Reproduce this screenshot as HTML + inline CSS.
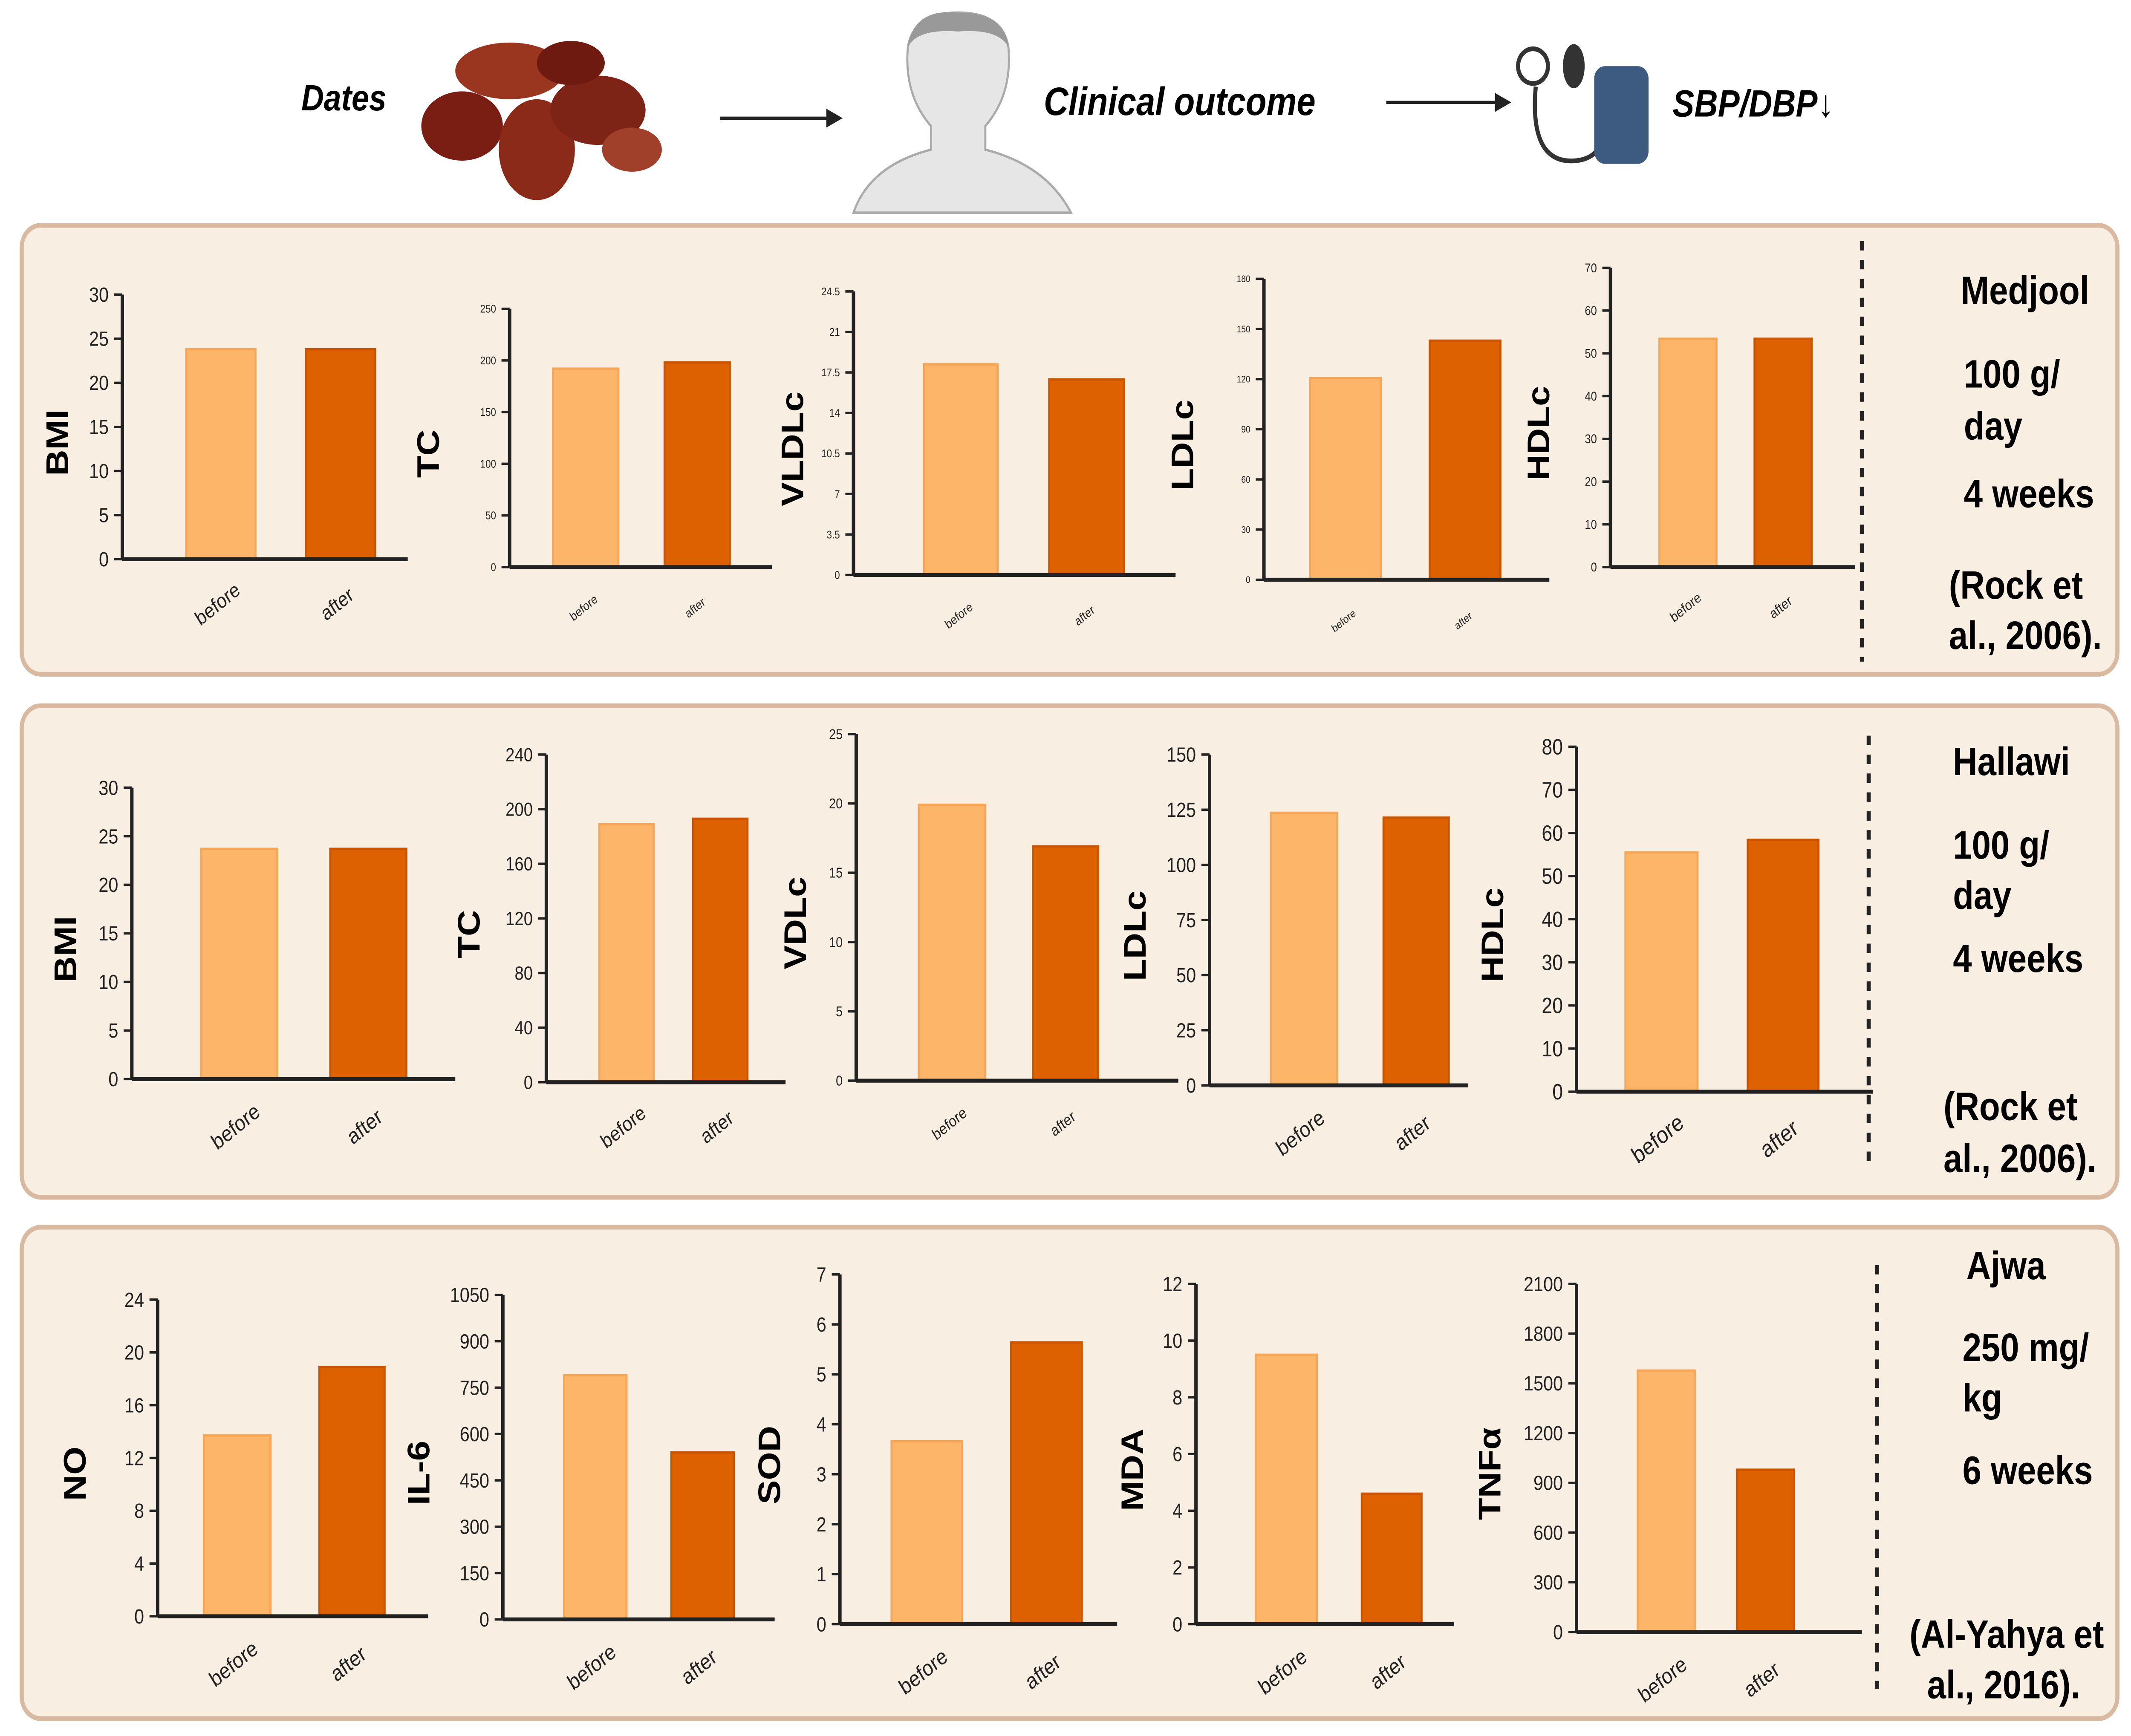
<!DOCTYPE html>
<html><head><meta charset="utf-8"><style>
html,body{margin:0;padding:0;background:#fff;width:100%;height:100%;overflow:hidden}
svg{display:block;position:absolute;left:0;top:0;width:100vw;height:100vh}
text{font-family:"Liberation Sans",sans-serif}
</style></head><body>
<svg id="root" viewBox="0 0 1568 1102" preserveAspectRatio="none" xmlns="http://www.w3.org/2000/svg">
<rect width="1568" height="1102" fill="#fff"/>
<g>
<text x="253" y="70" font-size="23" font-weight="bold" font-style="italic" text-anchor="middle">Dates</text>
<g>
<ellipse cx="340" cy="80" rx="30" ry="22" fill="#7a1e14"/>
<ellipse cx="395" cy="95" rx="28" ry="32" fill="#8b2a18"/>
<ellipse cx="375" cy="45" rx="40" ry="18" fill="#9a3520"/>
<ellipse cx="440" cy="70" rx="35" ry="22" fill="#7e2416"/>
<ellipse cx="465" cy="95" rx="22" ry="14" fill="#a1402a"/>
<ellipse cx="420" cy="40" rx="25" ry="14" fill="#6e1a10"/>
</g>
<line x1="530" y1="75" x2="610" y2="75" stroke="#222" stroke-width="2"/>
<polygon points="620,75 608,69 608,81" fill="#222"/>
<g>
<path d="M628,135 Q640,105 685,95 L685,80 Q665,60 668,30 Q672,8 705,8 Q738,8 742,30 Q745,60 725,80 L725,95 Q770,105 788,135 Z" fill="#e6e6e6" stroke="#aaa" stroke-width="1.5"/>
<path d="M668,30 Q672,5 705,8 Q740,8 742,30 Q735,18 705,20 Q675,18 668,30Z" fill="#999"/>
</g>
<text x="868" y="73" font-size="25" font-weight="bold" font-style="italic" text-anchor="middle">Clinical outcome</text>
<line x1="1020" y1="65" x2="1100" y2="65" stroke="#222" stroke-width="2"/>
<polygon points="1112,65 1100,59 1100,71" fill="#222"/>
<g>
<circle cx="1128" cy="42" r="11" fill="#fff" stroke="#333" stroke-width="3"/>
<ellipse cx="1158" cy="42" rx="8" ry="14" fill="#333"/>
<path d="M1130,55 Q1125,105 1160,102 Q1180,100 1180,80" fill="none" stroke="#333" stroke-width="3"/>
<rect x="1173" y="42" width="40" height="62" rx="8" fill="#3d5a80"/>
</g>
<text x="1290" y="74" font-size="24" font-weight="bold" font-style="italic" text-anchor="middle">SBP/DBP↓</text>
</g>
<rect x="16" y="143" width="1542" height="285" rx="14" fill="#f9eee2" stroke="#d9b9a0" stroke-width="3"/>
<rect x="16" y="448" width="1542" height="312" rx="14" fill="#f9eee2" stroke="#d9b9a0" stroke-width="3"/>
<rect x="16" y="779" width="1542" height="312" rx="14" fill="#f9eee2" stroke="#d9b9a0" stroke-width="3"/>
<g id="charts"></g>
<g font-weight="bold" font-size="25">
<line x1="1370" y1="153" x2="1370" y2="420" stroke="#222" stroke-width="3" stroke-dasharray="6,6"/>
<text x="1490" y="193" text-anchor="middle">Medjool</text>
<text x="1445" y="246">100 g/</text><text x="1445" y="279">day</text>
<text x="1445" y="322">4 weeks</text>
<text x="1434" y="380">(Rock et</text><text x="1434" y="412">al., 2006).</text>
<line x1="1375" y1="467" x2="1375" y2="738" stroke="#222" stroke-width="3" stroke-dasharray="6,6"/>
<text x="1480" y="492" text-anchor="middle">Hallawi</text>
<text x="1437" y="545">100 g/</text><text x="1437" y="577">day</text>
<text x="1437" y="617">4 weeks</text>
<text x="1430" y="711">(Rock et</text><text x="1430" y="744">al., 2006).</text>
<line x1="1381" y1="803" x2="1381" y2="1072" stroke="#222" stroke-width="3" stroke-dasharray="6,6"/>
<text x="1476" y="812" text-anchor="middle">Ajwa</text>
<text x="1444" y="864">250 mg/</text><text x="1444" y="896">kg</text>
<text x="1444" y="942">6 weeks</text>
<text x="1405" y="1046">(Al-Yahya et</text><text x="1418" y="1078">al., 2016).</text>
</g>
</svg>
<script>
const categories = ["before", "after"];
// Row 1 (Medjool)
const bmi1 = [23.8, 23.8];   const bmi1Ticks = [0,5,10,15,20,25,30];
const tc1 = [192, 198];      const tc1Ticks = [0,50,100,150,200,250];
const vldl1 = [18.2, 16.9];  const vldl1Ticks = [0,3.5,7,10.5,14,17.5,21,24.5];
const ldl1 = [120.6, 143];   const ldl1Ticks = [0,30,60,90,120,150,180];
const hdl1 = [53.4, 53.4];   const hdl1Ticks = [0,10,20,30,40,50,60,70];
// Row 2 (Hallawi)
const bmi2 = [23.7, 23.7];   const bmi2Ticks = [0,5,10,15,20,25,30];
const tc2 = [189, 193];      const tc2Ticks = [0,40,80,120,160,200,240];
const vdl2 = [19.9, 16.9];   const vdl2Ticks = [0,5,10,15,20,25];
const ldl2 = [123.6, 121.4]; const ldl2Ticks = [0,25,50,75,100,125,150];
const hdl2 = [55.5, 58.4];   const hdl2Ticks = [0,10,20,30,40,50,60,70,80];
// Row 3 (Ajwa)
const no3 = [13.7, 18.9];    const no3Ticks = [0,4,8,12,16,20,24];
const il63 = [790, 540];     const il63Ticks = [0,150,300,450,600,750,900,1050];
const sod3 = [3.66, 5.64];   const sod3Ticks = [0,1,2,3,4,5,6,7];
const mda3 = [9.5, 4.6];     const mda3Ticks = [0,2,4,6,8,10,12];
const tnf3 = [1577, 979];    const tnf3Ticks = [0,300,600,900,1200,1500,1800,2100];

const NS = "http://www.w3.org/2000/svg";
const root = document.getElementById("charts");
function mk(tag, attrs, parent) {
  const e = document.createElementNS(NS, tag);
  for (const k in attrs) e.setAttribute(k, attrs[k]);
  parent.appendChild(e);
  return e;
}
function chart(name, label, values, ticks, L) {
  const g = mk("g", {}, root);
  
  
  const max = ticks[ticks.length - 1];
  const y = v => L.yb - (v / max) * (L.yb - L.yt);
  ticks.forEach(t => {
    const yy = y(t);
    mk("line", {x1: L.x0 - 6, x2: L.x0, y1: yy, y2: yy, stroke: "#222", "stroke-width": 1.5}, g);
    const tx = mk("text", {x: L.x0 - 10, y: yy + L.fs * 0.35, "font-size": L.fs, "text-anchor": "end", fill: "#222"}, g);
    tx.textContent = t;
    
    
  });
  const colors = ["#fdb56a", "#de6100"], strokes = ["#f5a657", "#c95500"];
  values.forEach((v, i) => {
    const [l, r] = L.bars[i];
    const b = mk("rect", {x: l, y: y(v), width: r - l, height: L.yb - y(v), fill: colors[i], stroke: strokes[i], "stroke-width": 1.5}, g);
    
    
    const cx = (l + r) / 2;
    const t = mk("text", {x: cx, y: L.yb + L.xo, "font-size": L.xfs, "text-anchor": "middle", transform: `rotate(-35 ${cx} ${L.yb + L.xo})`, fill: "#222"}, g);
    t.textContent = categories[i];
    
    
  });
  mk("line", {x1: L.x0, x2: L.x0, y1: L.yt, y2: L.yb, stroke: "#222", "stroke-width": 2.5}, g);
  mk("line", {x1: L.x0, x2: L.x1, y1: L.yb, y2: L.yb, stroke: "#222", "stroke-width": 2.5}, g);
  const ly = (L.yt + L.yb) / 2 + 10;
  const yl = mk("text", {x: L.lx, y: ly, "font-size": 23, "font-weight": "bold", "text-anchor": "middle", transform: `rotate(-90 ${L.lx} ${ly})`}, g);
  yl.textContent = label;
  
  
}
chart("bmi-medjool", "BMI", bmi1, bmi1Ticks, {x0:90,x1:300,yb:355,yt:187,fs:13,lx:50,bars:[[137,188],[225,276]],xo:32,xfs:13});
chart("tc-medjool", "TC", tc1, tc1Ticks, {x0:375,x1:568,yb:360,yt:196,fs:7,lx:323,bars:[[407,455],[489,537]],xo:28,xfs:8});
chart("vldlc-medjool", "VLDLc", vldl1, vldl1Ticks, {x0:628,x1:865,yb:365,yt:185,fs:7,lx:591,bars:[[680,734],[772,827]],xo:28,xfs:8});
chart("ldlc-medjool", "LDLc", ldl1, ldl1Ticks, {x0:930,x1:1140,yb:368,yt:177,fs:6,lx:878,bars:[[964,1016],[1052,1104]],xo:28,xfs:7});
chart("hdlc-medjool", "HDLc", hdl1, hdl1Ticks, {x0:1185,x1:1365,yb:360,yt:170,fs:8,lx:1140,bars:[[1221,1263],[1291,1333]],xo:28,xfs:9});
chart("bmi-hallawi", "BMI", bmi2, bmi2Ticks, {x0:97,x1:335,yb:685,yt:500,fs:13,lx:56,bars:[[148,204],[243,299]],xo:34,xfs:14});
chart("tc-hallawi", "TC", tc2, tc2Ticks, {x0:402,x1:578,yb:687,yt:479,fs:12,lx:353,bars:[[441,481],[510,550]],xo:32,xfs:13});
chart("vdlc-hallawi", "VDLc", vdl2, vdl2Ticks, {x0:630,x1:867,yb:686,yt:466,fs:9,lx:593,bars:[[676,725],[760,808]],xo:30,xfs:10});
chart("ldlc-hallawi", "LDLc", ldl2, ldl2Ticks, {x0:890,x1:1080,yb:689,yt:479,fs:13,lx:843,bars:[[935,984],[1018,1066]],xo:34,xfs:14});
chart("hdlc-hallawi", "HDLc", hdl2, hdl2Ticks, {x0:1160,x1:1378,yb:693,yt:474,fs:14,lx:1106,bars:[[1196,1249],[1286,1338]],xo:34,xfs:15});
chart("no-ajwa", "NO", no3, no3Ticks, {x0:116,x1:315,yb:1026,yt:825,fs:13,lx:63,bars:[[150,199],[235,283]],xo:34,xfs:14});
chart("il6-ajwa", "IL-6", il63, il63Ticks, {x0:370,x1:570,yb:1028,yt:822,fs:13,lx:316,bars:[[415,461],[494,540]],xo:34,xfs:14});
chart("sod-ajwa", "SOD", sod3, sod3Ticks, {x0:618,x1:822,yb:1031,yt:809,fs:13,lx:574,bars:[[656,708],[744,796]],xo:34,xfs:14});
chart("mda-ajwa", "MDA", mda3, mda3Ticks, {x0:880,x1:1070,yb:1031,yt:815,fs:13,lx:841,bars:[[924,969],[1002,1046]],xo:34,xfs:14});
chart("tnfa-ajwa", "TNFα", tnf3, tnf3Ticks, {x0:1160,x1:1370,yb:1036,yt:815,fs:13,lx:1104,bars:[[1205,1247],[1278,1320]],xo:34,xfs:14});
</script>
</body></html>
